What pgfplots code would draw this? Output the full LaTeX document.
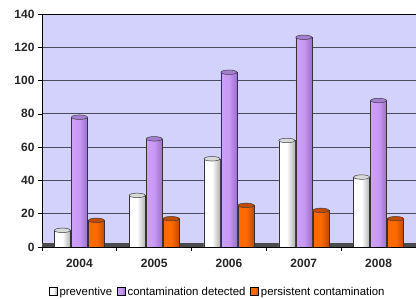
\documentclass[border=0pt]{standalone}
\usepackage{pgfplots}
\pgfplotsset{compat=1.18}
\usepackage{fontspec}
\setmainfont{Liberation Sans}
\usetikzlibrary{shapes.geometric}
\definecolor{wallbg}{HTML}{D2D2FC}
\definecolor{gridc}{HTML}{4A4A5A}
\definecolor{purpL}{HTML}{CFA0FA}
\definecolor{purpR}{HTML}{9C70CC}
\definecolor{oraL}{HTML}{FF6A00}
\definecolor{oraR}{HTML}{C04A00}
\pgfplotsset{
  prevst/.style={draw=black!80, line width=0.5pt, left color=white, right color=black!30, middle color=white,
    every node near coord/.append style={fill=black!15}},
  contst/.style={draw=black!80, line width=0.5pt, left color=purpL, right color=purpR, middle color=purpL!85!purpR,
    every node near coord/.append style={fill=purpR!90}},
  persst/.style={draw=black!80, line width=0.5pt, left color=oraL, right color=oraR, middle color=oraL,
    every node near coord/.append style={fill=oraR}},
}
\newcommand\onebar[4]{\addplot[#1, bar shift=#2, forget plot] coordinates {(#3,#4)};}
\begin{document}
\begin{tikzpicture}
\useasboundingbox (-42pt,-52pt) rectangle (374pt,247pt);
\begin{axis}[
  scale only axis,
  width=374pt, height=233pt,
  xmin=-0.5, xmax=4.5, ymin=0, ymax=140,
  ybar, bar width=16pt,
  axis background/.style={fill=wallbg},
  xtick={0,1,2,3,4},
  xticklabels={2004,2005,2006,2007,2008},
  minor xtick={-0.5,0.5,1.5,2.5,3.5,4.5},
  major x tick style={draw=none},
  minor x tick style={black, line width=0.6pt},
  minor tick length=4pt,
  ytick={0,20,...,140},
  ymajorgrids,
  grid style={gridc, line width=0.8pt},
  tick align=outside,
  major tick length=4pt,
  y tick style={black, line width=0.6pt},
  tick label style={font=\fontsize{12}{14}\selectfont\bfseries, text=black!85},
  /pgf/number format/assume math mode=true,
  xticklabel style={yshift=-5pt},
  axis line style={black, line width=0.8pt},
  axis x line*=bottom, axis y line*=left,
  nodes near coords={},
  every node near coord/.append style={ellipse, draw=black!75, line width=0.5pt, minimum width=16pt, minimum height=4.5pt, inner sep=0pt, anchor=center},
  legend style={at={(0.47,-0.192)}, anchor=center, draw=none, fill=none,
    font=\fontsize{11.4}{13}\selectfont, legend columns=-1,
    /tikz/every even column/.append style={column sep=3pt}},
  legend image code/.code={\draw[#1, draw=black] (0pt,-4pt) rectangle (8pt,4pt);},
  legend cell align=left,
]
\fill[black!70] (rel axis cs:0,0) rectangle ([yshift=4pt]rel axis cs:1,0);
\draw[black, line width=0.8pt] (rel axis cs:0,1) -- (rel axis cs:1,1);
\onebar{prevst}{-17pt}{0}{10}
\onebar{prevst}{-17pt}{1}{31}
\onebar{prevst}{-17pt}{2}{53}
\onebar{prevst}{-17pt}{3}{64}
\onebar{prevst}{-17pt}{4}{42}
\onebar{contst}{0pt}{0}{78}
\onebar{contst}{0pt}{1}{65}
\onebar{contst}{0pt}{2}{105}
\onebar{contst}{0pt}{3}{126}
\onebar{contst}{0pt}{4}{88}
\onebar{persst}{17pt}{0}{16}
\onebar{persst}{17pt}{1}{17}
\onebar{persst}{17pt}{2}{25}
\onebar{persst}{17pt}{3}{22}
\onebar{persst}{17pt}{4}{17}
\addlegendimage{prevst}
\addlegendentry{preventive}
\addlegendimage{contst}
\addlegendentry{contamination detected}
\addlegendimage{persst}
\addlegendentry{persistent contamination}
\end{axis}
\end{tikzpicture}
\end{document}
